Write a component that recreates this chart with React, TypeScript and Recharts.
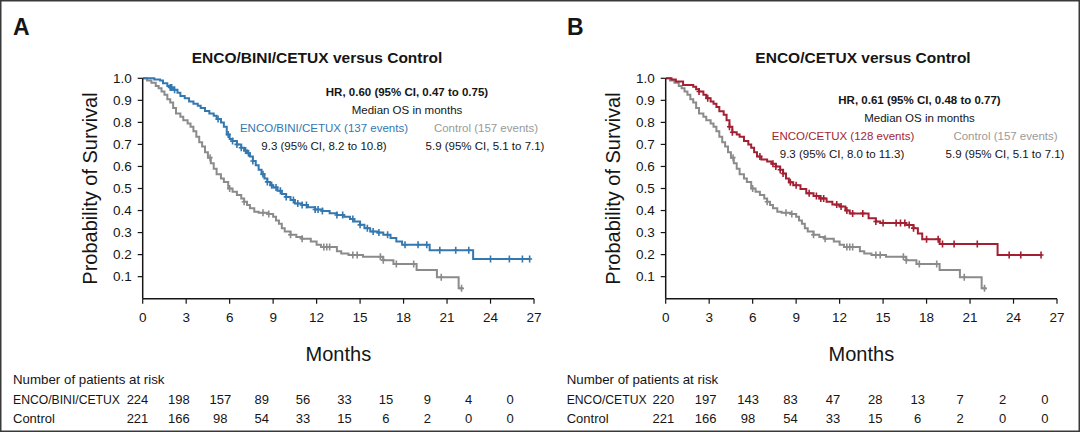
import { ComposedChart, Line, Scatter, XAxis, YAxis } from "recharts";

const monthTicks = [0, 3, 6, 9, 12, 15, 18, 21, 24, 27];
const survivalTicks = [0.1, 0.2, 0.3, 0.4, 0.5, 0.6, 0.7, 0.8, 0.9, 1.0];

// ENCO/BINI/CETUX arm (panel A)
const tripletMonths = [0, 0.8, 1.2, 1.4, 1.7, 1.9, 2.1, 2.4, 2.6, 2.9, 3.2, 3.5, 3.8, 4.0, 4.3, 4.6, 4.9, 5.1, 5.4, 5.6, 5.8, 6.0, 6.2, 6.5, 6.8, 7.0, 7.2, 7.4, 7.6, 7.8, 8.0, 8.2, 8.4, 8.6, 8.8, 9.0, 9.3, 9.6, 9.9, 10.2, 10.5, 11.0, 11.4, 11.9, 12.4, 12.9, 13.4, 13.9, 14.3, 14.6, 15.0, 15.3, 15.7, 16.2, 16.6, 17.1, 17.5, 17.9, 19.8, 22.8, 26.7];
const tripletSurv = [1.0, 0.995, 0.99, 0.978, 0.965, 0.958, 0.948, 0.935, 0.92, 0.91, 0.895, 0.885, 0.875, 0.865, 0.852, 0.84, 0.83, 0.815, 0.8, 0.78, 0.745, 0.725, 0.715, 0.7, 0.685, 0.672, 0.66, 0.645, 0.625, 0.605, 0.585, 0.565, 0.545, 0.53, 0.515, 0.505, 0.49, 0.475, 0.462, 0.448, 0.432, 0.425, 0.415, 0.405, 0.398, 0.388, 0.38, 0.372, 0.362, 0.35, 0.335, 0.32, 0.305, 0.3, 0.29, 0.275, 0.26, 0.245, 0.22, 0.18, 0.18];
const tripletCensored = [1.9, 2.0, 2.2, 5.2, 5.9, 6.2, 6.5, 6.8, 7.1, 7.3, 7.6, 8.3, 8.6, 8.9, 9.2, 9.5, 9.9, 10.4, 10.7, 11.0, 11.3, 11.9, 12.1, 12.4, 13.4, 13.8, 14.5, 15.0, 15.5, 15.9, 16.3, 16.9, 18.1, 19.0, 19.6, 20.5, 21.6, 22.5, 24.0, 25.3, 26.2, 26.7];

// ENCO/CETUX arm (panel B)
const doubletMonths = [0, 0.4, 0.7, 1.2, 1.9, 2.1, 2.3, 2.6, 2.8, 3.1, 3.3, 3.5, 3.7, 4.0, 4.2, 4.4, 4.6, 4.9, 5.1, 5.4, 5.7, 5.9, 6.1, 6.3, 6.6, 7.0, 7.3, 7.6, 7.9, 8.1, 8.3, 8.5, 8.8, 9.3, 9.7, 10.2, 10.6, 11.1, 11.5, 12.0, 12.4, 12.7, 14.0, 14.5, 14.8, 16.6, 17.1, 17.4, 17.7, 18.9, 22.9, 25.9];
const doubletSurv = [1.0, 0.995, 0.985, 0.97, 0.962, 0.95, 0.94, 0.925, 0.91, 0.895, 0.885, 0.87, 0.85, 0.835, 0.81, 0.78, 0.755, 0.745, 0.735, 0.715, 0.7, 0.685, 0.665, 0.645, 0.632, 0.622, 0.612, 0.6, 0.585, 0.568, 0.545, 0.528, 0.515, 0.498, 0.478, 0.466, 0.455, 0.44, 0.427, 0.418, 0.4, 0.387, 0.365, 0.35, 0.343, 0.334, 0.32, 0.296, 0.27, 0.248, 0.198, 0.198];
const doubletCensored = [2.3, 2.9, 4.4, 4.6, 6.5, 7.4, 7.6, 7.9, 8.1, 8.6, 9.0, 9.9, 10.4, 10.7, 10.9, 11.8, 12.1, 12.5, 12.9, 13.6, 14.5, 15.0, 15.9, 16.2, 16.5, 16.8, 17.1, 18.0, 18.8, 19.1, 19.9, 21.5, 23.7, 24.5, 25.9];

// Control arm (same in both panels)
const controlMonths = [0, 0.3, 0.6, 0.9, 1.1, 1.3, 1.5, 1.7, 1.9, 2.1, 2.3, 2.6, 2.8, 3.1, 3.3, 3.5, 3.7, 3.9, 4.1, 4.3, 4.5, 4.7, 4.9, 5.1, 5.4, 5.6, 5.9, 6.2, 6.5, 6.8, 7.0, 7.2, 7.4, 7.7, 8.0, 8.6, 9.0, 9.2, 9.4, 9.6, 9.8, 10.2, 10.6, 11.0, 11.6, 12.0, 12.3, 13.4, 13.7, 14.2, 15.2, 16.6, 17.3, 18.9, 20.3, 21.8, 22.1];
const controlSurv = [1.0, 0.99, 0.98, 0.965, 0.955, 0.94, 0.925, 0.905, 0.89, 0.865, 0.84, 0.825, 0.81, 0.795, 0.78, 0.76, 0.735, 0.71, 0.69, 0.665, 0.64, 0.615, 0.59, 0.565, 0.545, 0.53, 0.5, 0.485, 0.47, 0.455, 0.44, 0.425, 0.41, 0.395, 0.39, 0.384, 0.372, 0.355, 0.34, 0.32, 0.305, 0.29, 0.28, 0.272, 0.26, 0.245, 0.235, 0.215, 0.205, 0.198, 0.19, 0.175, 0.157, 0.13, 0.097, 0.047, 0.047];
const controlCensored = [4.65, 6.0, 7.0, 8.3, 8.7, 10.2, 11.0, 12.5, 12.7, 12.9, 14.5, 14.8, 16.4, 16.6, 17.5, 18.7, 20.6, 22.0];

// numbers at risk at months 0, 3, ..., 27
const riskTriplet = [224, 198, 157, 89, 56, 33, 15, 9, 4, 0];
const riskDoublet = [220, 197, 143, 83, 47, 28, 13, 7, 2, 0];
const riskControl = [221, 166, 98, 54, 33, 15, 6, 2, 0, 0];

const BLUE = "#3478b0";
const RED = "#a31f32";
const GRAY = "#8b8b8b";
const INK = "#151515";

const toCurve = (t: number[], s: number[]) => t.map((m, i) => ({ t: m, s: s[i] }));
const toMarks = (times: number[], t: number[], s: number[]) =>
  times.map((m) => {
    let v = s[0];
    for (let i = 0; i < t.length; i++) if (t[i] <= m) v = s[i];
    return { t: m, s: v };
  });

const controlCurve = toCurve(controlMonths, controlSurv);
const controlMarks = toMarks(controlCensored, controlMonths, controlSurv);

const CensorMark = (props: any) => {
  const { cx, cy, fill } = props;
  if (cx == null || cy == null) return null;
  return (
    <path
      d={`M${cx},${cy - 3.5}V${cy + 3.5}M${cx - 2.5},${cy}H${cx + 2.5}`}
      stroke={fill}
      strokeWidth={1.6}
      fill="none"
    />
  );
};

function KMPanel({ left, color, t, s, censored }: { left: number; color: string; t: number[]; s: number[]; censored: number[] }) {
  const armCurve = toCurve(t, s);
  const armMarks = toMarks(censored, t, s);
  return (
    <div style={{ position: "absolute", left, top: 0 }}>
      <ComposedChart width={550} height={380} margin={{ top: 78.3, right: 16, bottom: 19.3, left: 62.7 }}>
        <XAxis
          dataKey="t"
          type="number"
          domain={[0, 27]}
          ticks={monthTicks}
          allowDataOverflow
          height={62}
          tickSize={5}
          tickMargin={9}
          axisLine={{ stroke: INK, strokeWidth: 1.5 }}
          tickLine={{ stroke: INK, strokeWidth: 1.2 }}
          tick={{ fill: INK, fontSize: 13.5 }}
          label={{ value: "Months", position: "insideBottom", offset: 0, fontSize: 20, fill: INK }}
        />
        <YAxis
          dataKey="s"
          type="number"
          domain={[0, 1]}
          ticks={survivalTicks}
          tickFormatter={(v: number) => v.toFixed(1)}
          width={80}
          tickSize={5}
          tickMargin={6}
          axisLine={{ stroke: INK, strokeWidth: 1.5 }}
          tickLine={{ stroke: INK, strokeWidth: 1.2 }}
          tick={{ fill: INK, fontSize: 13.5 }}
          label={{
            value: "Probability of Survival",
            angle: -90,
            position: "insideLeft",
            offset: 27,
            fontSize: 20,
            fill: INK,
            style: { textAnchor: "middle" },
          }}
        />
        <Line data={controlCurve} dataKey="s" type="stepAfter" stroke={GRAY} strokeWidth={2} dot={false} isAnimationActive={false} />
        <Line data={armCurve} dataKey="s" type="stepAfter" stroke={color} strokeWidth={2} dot={false} isAnimationActive={false} />
        <Scatter data={controlMarks} dataKey="s" fill={GRAY} shape={CensorMark} isAnimationActive={false} />
        <Scatter data={armMarks} dataKey="s" fill={color} shape={CensorMark} isAnimationActive={false} />
      </ComposedChart>
    </div>
  );
}

function RiskTable({ x, colStart, colStep, armLabel, arm }: { x: number; colStart: number; colStep: number; armLabel: string; arm: number[] }) {
  return (
    <g fontSize={13} fill={INK}>
      <text x={x} y={384} fontSize={13.3}>Number of patients at risk</text>
      <text x={x} y={404} fontSize={12.2}>{armLabel}</text>
      <text x={x} y={423}>Control</text>
      {arm.map((n, i) => (
        <text key={"a" + i} x={colStart + i * colStep} y={404} textAnchor="middle">{n}</text>
      ))}
      {riskControl.map((n, i) => (
        <text key={"c" + i} x={colStart + i * colStep} y={423} textAnchor="middle">{n}</text>
      ))}
    </g>
  );
}

export default function App() {
  return (
    <div
      style={{
        position: "relative",
        width: 1080,
        height: 432,
        background: "#fff",
        overflow: "hidden",
        fontFamily: '"Liberation Sans", Arial, Helvetica, sans-serif',
      }}
    >
      <style>{"body{margin:0}"}</style>
      <KMPanel left={0} color={BLUE} t={tripletMonths} s={tripletSurv} censored={tripletCensored} />
      <KMPanel left={523.3} color={RED} t={doubletMonths} s={doubletSurv} censored={doubletCensored} />
      <svg width={1080} height={432} style={{ position: "absolute", left: 0, top: 0, pointerEvents: "none" }}>
        <text x={13} y={35} fontSize={23} fontWeight="bold" fill={INK}>A</text>
        <text x={567} y={35} fontSize={23} fontWeight="bold" fill={INK}>B</text>
        <text x={317} y={63} fontSize={15.5} fontWeight="bold" fill={INK} textAnchor="middle">ENCO/BINI/CETUX versus Control</text>
        <text x={863} y={63} fontSize={15.5} fontWeight="bold" fill={INK} textAnchor="middle">ENCO/CETUX versus Control</text>

        <g fontSize={11.5} textAnchor="middle">
          <text x={407} y={96} fontWeight="bold" fill={INK}>HR, 0.60 (95% CI, 0.47 to 0.75)</text>
          <text x={407} y={114} fill={INK}>Median OS in months</text>
          <text x={324} y={132} fill={BLUE}>ENCO/BINI/CETUX (137 events)</text>
          <text x={486} y={132} fill="#9a9a9a">Control (157 events)</text>
          <text x={324} y={150} fill={INK}>9.3 (95% CI, 8.2 to 10.8)</text>
          <text x={485} y={150} fill={INK}>5.9 (95% CI, 5.1 to 7.1)</text>

          <text x={919.5} y={104} fontWeight="bold" fill={INK}>HR, 0.61 (95% CI, 0.48 to 0.77)</text>
          <text x={919.5} y={122} fill={INK}>Median OS in months</text>
          <text x={843} y={140} fill={RED}>ENCO/CETUX (128 events)</text>
          <text x={1005.5} y={140} fill="#9a9a9a">Control (157 events)</text>
          <text x={842} y={158} fill={INK}>9.3 (95% CI, 8.0 to 11.3)</text>
          <text x={1005} y={158} fill={INK}>5.9 (95% CI, 5.1 to 7.1)</text>
        </g>

        <RiskTable x={13} colStart={137.5} colStep={41.4} armLabel="ENCO/BINI/CETUX" arm={riskTriplet} />
        <RiskTable x={566.7} colStart={663.3} colStep={42.4} armLabel="ENCO/CETUX" arm={riskDoublet} />

        <rect x={0.75} y={0.75} width={1078.5} height={430.5} fill="none" stroke="#3a3a3a" strokeWidth={1.5} />
      </svg>
    </div>
  );
}
